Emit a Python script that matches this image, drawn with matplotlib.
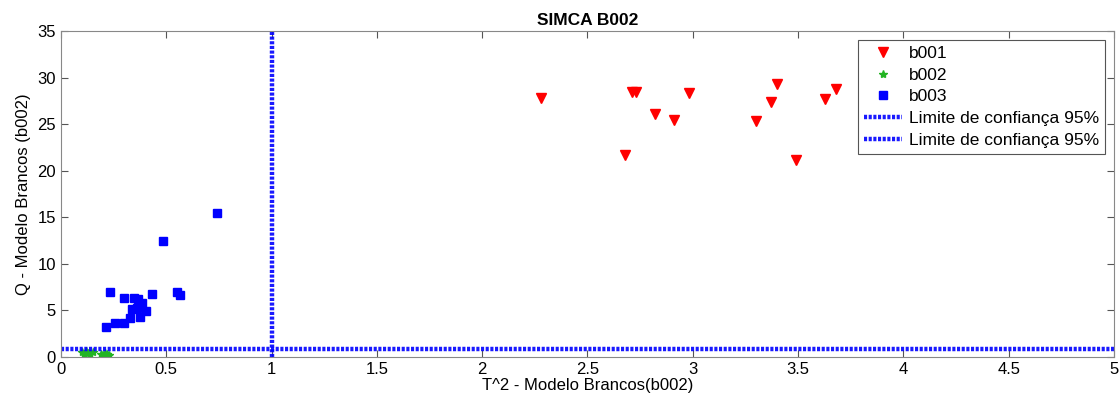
import matplotlib
matplotlib.use("Agg")
import matplotlib.pyplot as plt

plt.rcParams['font.family'] = ['Liberation Sans', 'DejaVu Sans']

# b001 samples (T^2, Q)
b001_t2 = [2.28, 2.71, 2.73, 2.98, 2.82, 2.91, 2.68, 3.40, 3.37, 3.30, 3.49, 3.63, 3.68]
b001_q = [27.8, 28.5, 28.5, 28.3, 26.05, 25.4, 21.7, 29.3, 27.4, 25.3, 21.15, 27.7, 28.8]

# b002 samples
b002_t2 = [0.10, 0.11, 0.12, 0.13, 0.14, 0.15, 0.19, 0.20, 0.21, 0.22, 0.23]
b002_q = [0.5, 0.35, 0.6, 0.4, 0.3, 0.5, 0.3, 0.2, 0.4, 0.3, 0.25]

# b003 samples
b003_t2 = [0.233, 0.299, 0.347, 0.367, 0.383, 0.336, 0.362, 0.404, 0.43,
           0.549, 0.565, 0.375, 0.328, 0.30, 0.256, 0.212, 0.483, 0.742]
b003_q = [7.0, 6.3, 6.3, 6.2, 5.75, 5.2, 5.3, 4.9, 6.75,
          7.0, 6.65, 4.25, 4.15, 3.6, 3.7, 3.2, 12.5, 15.5]

# confidence limits
t2_lim = 1.0
q_lim = 0.9

fig = plt.figure(figsize=(11.19, 4.04), dpi=100)
ax = fig.add_axes([0.0545, 0.1163, 0.941, 0.807])

ax.plot(b001_t2, b001_q, 'v', color='red', markersize=6.5, linestyle='none', label='b001')
ax.plot(b002_t2, b002_q, '*', color='#22b422', markersize=6, linestyle='none', label='b002')
ax.plot(b003_t2, b003_q, 's', color='blue', markersize=5.5, linestyle='none', label='b003')

lim_style = dict(color='blue', linewidth=3.2, dashes=(0.7, 0.35), alpha=0.9)
ax.axvline(t2_lim, label='Limite de confiança 95%', **lim_style)
ax.axhline(q_lim, label='Limite de confiança 95%', **lim_style)

ax.set_xlim(0, 5)
ax.set_ylim(0, 35)
ax.set_xticks([0, 0.5, 1, 1.5, 2, 2.5, 3, 3.5, 4, 4.5, 5])
ax.set_xticklabels(['0', '0.5', '1', '1.5', '2', '2.5', '3', '3.5', '4', '4.5', '5'])
ax.set_yticks([0, 5, 10, 15, 20, 25, 30, 35])
ax.tick_params(direction='in', top=True, right=True, labelsize=12, length=5,
               color='#555555', width=0.8)
for s in ax.spines.values():
    s.set_color('#888888')

ax.set_xlabel('T^2 - Modelo Brancos(b002)', fontsize=12, labelpad=1)
ax.set_ylabel('Q - Modelo Brancos (b002)', fontsize=12, labelpad=5)
ax.set_title('SIMCA B002', fontsize=12.5, fontweight='bold', pad=4)

leg = ax.legend(loc='upper right', fontsize=12.5, fancybox=False, framealpha=1,
                edgecolor='#555555', borderaxespad=0.5, handlelength=2.2,
                labelspacing=0.38, handletextpad=0.4, borderpad=0.35)
leg.get_frame().set_linewidth(0.8)

fig.savefig('out.png', dpi=100)
